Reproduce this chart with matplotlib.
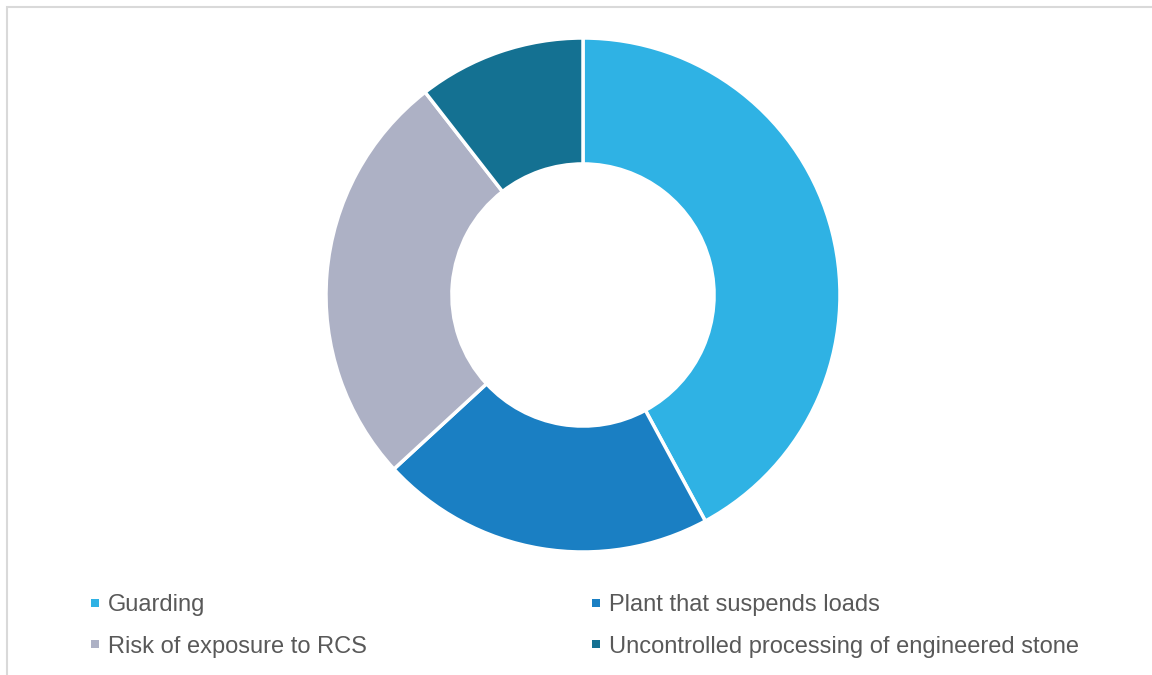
import matplotlib.pyplot as plt
from matplotlib.patches import Rectangle

labels = ['Guarding', 'Plant that suspends loads', 'Risk of exposure to RCS',
          'Uncontrolled processing of engineered stone']
counts = [8, 4, 5, 2]
colors = ['#2FB2E4', '#1A7FC3', '#ADB1C5', '#147192']

plt.rcParams['font.family'] = ['Liberation Sans', 'DejaVu Sans']

W, H = 1152, 675
fig = plt.figure(figsize=(W / 100, H / 100), dpi=100)

# light grey frame, clipped on the right and bottom like the original
fig.patches.append(Rectangle((7 / W, -0.05), 1.1, 1 - 7 / H + 0.05,
                             transform=fig.transFigure, fill=False,
                             edgecolor='#D9D9D9', linewidth=1.5))

# donut: centre (583, 295) px, radius 257 px
cx, cy, r = 583, 295, 257
ax = fig.add_axes([(cx - r) / W, (H - cy - r) / H, 2 * r / W, 2 * r / H])
ax.pie(counts, colors=colors, startangle=90, counterclock=False, radius=1,
       wedgeprops=dict(width=0.49, edgecolor='white', linewidth=2.5))
ax.set_xlim(-1, 1)
ax.set_ylim(-1, 1)
ax.set_aspect('equal')
ax.axis('off')

# legend, two columns
col_x = [95, 596]
row_y = [603, 644]
for i, (lab, col) in enumerate(zip(labels, colors)):
    x = col_x[i % 2]
    y = row_y[i // 2]
    fig.patches.append(Rectangle(((x - 4) / W, (H - y - 4) / H), 8 / W, 8 / H,
                                 transform=fig.transFigure, facecolor=col,
                                 edgecolor='none'))
    fig.text((x + 13) / W, (H - y) / H, lab, fontsize=17, color='#595959',
             ha='left', va='center_baseline')

fig.savefig('out.png', dpi=100)
